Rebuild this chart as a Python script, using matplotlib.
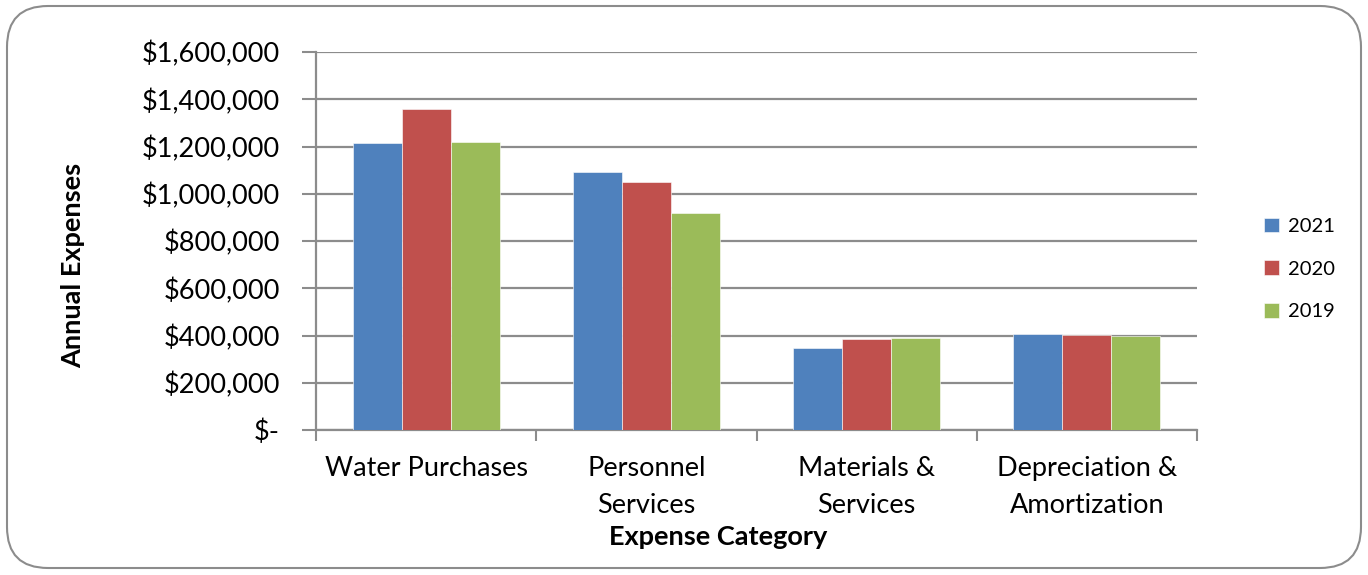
import matplotlib.pyplot as plt
import numpy as np
from matplotlib.patches import FancyBboxPatch
from matplotlib.ticker import FuncFormatter

categories = ["Water Purchases", "Personnel\nServices", "Materials &\nServices", "Depreciation &\nAmortization"]
years = ["2021", "2020", "2019"]
vals_2021 = [1216000, 1093000, 349000, 406000]
vals_2020 = [1359000, 1051000, 386000, 404000]
vals_2019 = [1219000, 918000, 391000, 400000]
colors = ["#4F81BD", "#C0504D", "#9BBB59"]

plt.rcParams['font.family'] = ['Lato', 'DejaVu Sans']

fig = plt.figure(figsize=(13.68, 5.75), dpi=100)
# rounded outer border
fig.patches.append(FancyBboxPatch((7 / 1368, 7 / 575), 1354 / 1368, 562 / 575,
                                  boxstyle="round,pad=0,rounding_size=0.03",
                                  transform=fig.transFigure, fill=False,
                                  edgecolor="#8c8c8c", linewidth=1.5, mutation_aspect=1368 / 575))

ax = fig.add_axes([316 / 1368, 1 - 430 / 575, 881 / 1368, 378 / 575])

x = np.arange(len(categories))
w = 1 / 4.5
for i, (vals, c) in enumerate(zip([vals_2021, vals_2020, vals_2019], colors)):
    ax.bar(x + (i - 1) * w, vals, w, color=c, edgecolor="white", linewidth=0.4,
           label=years[i], zorder=3)

ax.set_xlim(-0.5, 3.5)
ax.set_ylim(0, 1600000)
ax.set_yticks(np.arange(0, 1600001, 200000))
ax.yaxis.set_major_formatter(FuncFormatter(lambda v, p: "$-" if v == 0 else f"${v:,.0f}"))
ax.grid(axis="y", color="#8c8c8c", linewidth=1.6, zorder=0)
ax.tick_params(axis="y", length=10, width=1.5, color="#8c8c8c", labelsize=19.5, pad=16)

ax.set_xticks(np.arange(-0.5, 4, 1))
ax.set_xticklabels([])
ax.set_xticks(x, minor=True)
ax.set_xticklabels(categories, minor=True, fontsize=19.5, linespacing=1.6)
ax.tick_params(axis="x", which="minor", length=0, pad=19)
ax.tick_params(axis="x", which="major", length=8, width=1.5, color="#8c8c8c")

for s in ["top", "right"]:
    ax.spines[s].set_visible(False)
for s in ["left", "bottom"]:
    ax.spines[s].set_color("#8c8c8c")
    ax.spines[s].set_linewidth(1.6)

fig.text(718 / 1368, 1 - 537 / 575, "Expense Category", ha="center", va="center",
         fontsize=19.5, fontweight="bold")
fig.text(73 / 1368, 1 - 265 / 575, "Annual Expenses", ha="center", va="center",
         rotation=90, fontsize=19.5, fontweight="bold")

ax.legend(loc="center left", bbox_to_anchor=(1246 / 1368, 1 - 269 / 575),
          bbox_transform=fig.transFigure, frameon=False, fontsize=14.5,
          handlelength=0.75, handleheight=0.75, handletextpad=0.45, labelspacing=1.25)

fig.savefig("out.png", dpi=100)
